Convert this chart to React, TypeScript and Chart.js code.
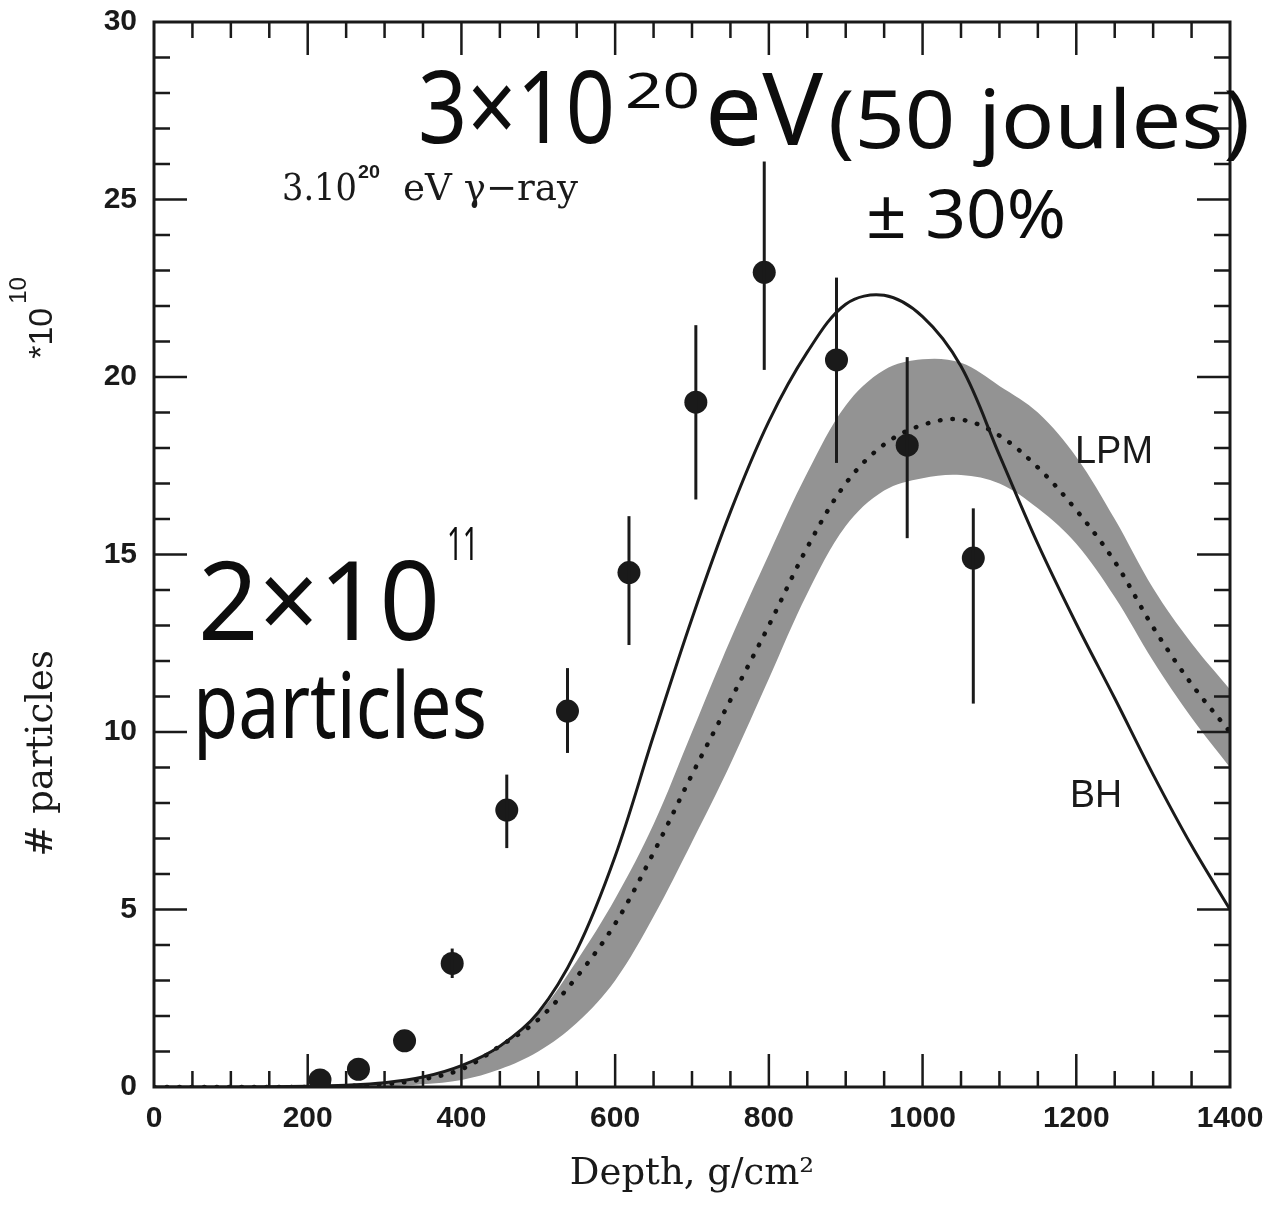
import React, { useEffect, useRef } from 'react';
import { Chart, registerables } from 'chart.js';

Chart.register(...registerables);

// ---------------- data ----------------
// Bethe-Heitler (BH) shower curve, solid line
const bhDepth = [0, 100, 200, 250, 300, 350, 400, 450, 500, 550, 600, 650, 700, 750, 800, 850, 900, 950, 1000, 1050, 1100, 1150, 1200, 1250, 1300, 1350, 1400];
const bhParticles = [0, 0, 0.02, 0.05, 0.12, 0.28, 0.6, 1.15, 2.1, 3.85, 6.5, 9.9, 13.2, 16.2, 18.75, 20.7, 22.05, 22.3, 21.7, 20.3, 17.8, 15.3, 13.05, 10.95, 8.8, 6.8, 5.0];

// LPM shower: central (dotted) curve and shaded band
const lpmDepth = [0, 200, 300, 350, 400, 450, 500, 550, 600, 650, 700, 750, 800, 850, 900, 950, 1000, 1050, 1100, 1150, 1200, 1250, 1300, 1350, 1400];
const lpmCentral = [0, 0, 0.08, 0.22, 0.5, 1.15, 1.9, 3.1, 4.6, 6.6, 8.8, 10.9, 13.0, 15.2, 17.0, 18.1, 18.65, 18.8, 18.35, 17.45, 16.25, 14.8, 12.95, 11.35, 10.0];
const lpmUpper = [0, 0, 0.12, 0.3, 0.6, 1.1, 2.05, 3.55, 5.3, 7.4, 10.0, 12.6, 15.0, 17.3, 19.2, 20.2, 20.5, 20.4, 19.75, 19.0, 17.75, 16.0, 14.05, 12.5, 11.2];
const lpmLower = [0, 0, 0.02, 0.08, 0.2, 0.5, 1.0, 1.8, 3.0, 4.8, 6.9, 9.1, 11.5, 13.9, 15.8, 16.8, 17.15, 17.24, 17.0, 16.3, 15.3, 13.8, 12.0, 10.4, 9.0];

// Fly's Eye measured points with error bars
const obsDepth = [216, 266, 326, 388, 459, 538, 618, 705, 794, 888, 980, 1066];
const obsParticles = [0.2, 0.5, 1.3, 3.48, 7.8, 10.59, 14.49, 19.29, 22.95, 20.48, 18.08, 14.9];
const obsErrHigh: (number | null)[] = [null, null, null, 3.9, 8.8, 11.8, 16.08, 21.46, 26.07, 22.8, 20.56, 16.3];
const obsErrLow: (number | null)[] = [null, null, null, 3.07, 6.73, 9.41, 12.45, 16.55, 20.2, 17.58, 15.46, 10.8];

// axes
const xRange = [0, 1400];
const yRange = [0, 30];
const xMajorStep = 200;
const xMinorStep = 50;
const yMajorStep = 5;
const yMinorStep = 1;

const INK = '#1a1a1a';
const BAND = '#939393';
const SERIF = '"DejaVu Serif", "Liberation Serif", serif';
const SANS = '"Liberation Sans", Arial, Helvetica, sans-serif';
const HAND = '"Noto Sans", "DejaVu Sans", sans-serif';

const zip = (xs: number[], ys: number[]) => xs.map((x, i) => ({ x, y: ys[i] }));

function drawFit(ctx: CanvasRenderingContext2D, text: string, x: number, y: number, targetW: number, font: string) {
  ctx.font = font;
  const w = ctx.measureText(text).width;
  const s = targetW > 0 && w > 0 ? Math.min(1.5, Math.max(0.6, targetW / w)) : 1;
  ctx.save();
  ctx.translate(x, y);
  ctx.scale(s, 1);
  ctx.textAlign = 'left';
  ctx.textBaseline = 'alphabetic';
  ctx.fillText(text, 0, 0);
  ctx.restore();
}

// text placed in data coordinates
const printedNotes = [
  { text: '3.10', x: 166.5, y: 25.0, w: 75, font: `37px ${SERIF}` },
  { text: '20', x: 265.4, y: 25.6, w: 22, font: `bold 19px ${SANS}` },
  { text: 'eV γ−ray', x: 324, y: 25.0, w: 175, font: `37px ${SERIF}` },
  { text: 'LPM', x: 1198.3, y: 17.57, w: 78, font: `38px ${SANS}` },
  { text: 'BH', x: 1191.8, y: 7.89, w: 52, font: `38px ${SANS}` },
];
const handNotes = [
  { text: '3×10', x: 343.5, y: 26.58, w: 197, size: 100 },
  { text: '20', x: 612.8, y: 27.57, w: 75, size: 50 },
  { text: 'eV', x: 716.9, y: 26.53, w: 118, size: 100 },
  { text: '(50 joules)', x: 876.9, y: 26.44, w: 422, size: 80 },
  { text: '± 30%', x: 926.4, y: 23.91, w: 200, size: 68 },
  { text: '2×10', x: 57.2, y: 12.59, w: 242, size: 110 },
  { text: '11', x: 381.2, y: 14.84, w: 31, size: 46 },
  { text: 'particles', x: 50.7, y: 9.83, w: 294, size: 92 },
];

const decorPlugin = {
  id: 'decor',
  afterDatasetsDraw(chart: any) {
    const ctx: CanvasRenderingContext2D = chart.ctx;
    const xs = chart.scales.x;
    const ys = chart.scales.y;
    const { left, right, top, bottom } = chart.chartArea;
    ctx.save();
    // error bars
    ctx.strokeStyle = INK;
    ctx.lineWidth = 3;
    obsDepth.forEach((d, i) => {
      const hi = obsErrHigh[i];
      const lo = obsErrLow[i];
      if (hi == null || lo == null) return;
      const px = xs.getPixelForValue(d);
      ctx.beginPath();
      ctx.moveTo(px, ys.getPixelForValue(hi));
      ctx.lineTo(px, ys.getPixelForValue(lo));
      ctx.stroke();
    });
    // frame
    ctx.lineWidth = 3;
    ctx.strokeRect(left, top, right - left, bottom - top);
    // inward ticks on all four sides
    ctx.lineWidth = 2.5;
    ctx.beginPath();
    for (let v = xRange[0] + xMinorStep; v < xRange[1]; v += xMinorStep) {
      const px = xs.getPixelForValue(v);
      const len = v % xMajorStep === 0 ? 33 : 16;
      ctx.moveTo(px, bottom);
      ctx.lineTo(px, bottom - len);
      ctx.moveTo(px, top);
      ctx.lineTo(px, top + len);
    }
    for (let v = yRange[0] + yMinorStep; v < yRange[1]; v += yMinorStep) {
      const py = ys.getPixelForValue(v);
      const len = v % yMajorStep === 0 ? 33 : 16;
      ctx.moveTo(left, py);
      ctx.lineTo(left + len, py);
      ctx.moveTo(right, py);
      ctx.lineTo(right - len, py);
    }
    ctx.stroke();
    ctx.restore();
  },
  afterDraw(chart: any) {
    const ctx: CanvasRenderingContext2D = chart.ctx;
    const xs = chart.scales.x;
    const ys = chart.scales.y;
    const { left } = chart.chartArea;
    ctx.save();
    ctx.fillStyle = INK;
    printedNotes.forEach(n => drawFit(ctx, n.text, xs.getPixelForValue(n.x), ys.getPixelForValue(n.y), n.w, n.font));
    ctx.fillStyle = '#0d0d0d';
    handNotes.forEach(n => drawFit(ctx, n.text, xs.getPixelForValue(n.x), ys.getPixelForValue(n.y), n.w, `${n.size}px ${HAND}`));

    // y-axis title (rotated)
    ctx.fillStyle = INK;
    ctx.save();
    ctx.translate(left - 102, ys.getPixelForValue(9.4));
    ctx.rotate(-Math.PI / 2);
    ctx.font = `37px ${SERIF}`;
    ctx.textAlign = 'center';
    ctx.textBaseline = 'alphabetic';
    ctx.fillText('# particles', 0, 0);
    ctx.restore();

    // *10^10 multiplier
    ctx.save();
    ctx.translate(left - 102, ys.getPixelForValue(21.95));
    ctx.rotate(-Math.PI / 2);
    ctx.textBaseline = 'alphabetic';
    ctx.font = `34px ${SANS}`;
    ctx.textAlign = 'right';
    ctx.fillText('*10', 0, 0);
    ctx.font = `24px ${SANS}`;
    ctx.textAlign = 'left';
    ctx.fillText('10', 4, -26);
    ctx.restore();

    ctx.restore();
  },
};

export default function App() {
  const ref = useRef<HTMLCanvasElement>(null);
  useEffect(() => {
    const canvas = ref.current;
    if (!canvas) return;
    const curve = { showLine: true, pointRadius: 0, tension: 0.35, fill: false };
    const chart = new Chart(canvas, {
      type: 'scatter',
      data: {
        datasets: [
          {
            label: 'Data',
            data: zip(obsDepth, obsParticles),
            showLine: false,
            pointRadius: 11.5,
            pointHoverRadius: 11.5,
            pointBackgroundColor: INK,
            pointBorderWidth: 0,
            clip: 0,
          } as any,
          {
            ...curve,
            label: 'BH',
            data: zip(bhDepth, bhParticles),
            borderColor: INK,
            borderWidth: 3,
          },
          {
            ...curve,
            label: 'LPM',
            data: zip(lpmDepth, lpmCentral),
            borderColor: '#111',
            borderWidth: 4.5,
            borderDash: [0.5, 12],
            borderCapStyle: 'round',
          },
          {
            ...curve,
            label: 'LPM upper',
            data: zip(lpmDepth, lpmUpper),
            borderWidth: 0,
            borderColor: 'rgba(0,0,0,0)',
            backgroundColor: BAND,
            fill: '+1',
          },
          {
            ...curve,
            label: 'LPM lower',
            data: zip(lpmDepth, lpmLower),
            borderWidth: 0,
            borderColor: 'rgba(0,0,0,0)',
          },
        ],
      },
      options: {
        responsive: false,
        animation: false,
        events: [],
        layout: { padding: { top: 22, right: 49, bottom: 0, left: 0 } },
        plugins: {
          legend: { display: false },
          tooltip: { enabled: false },
        },
        scales: {
          x: {
            type: 'linear',
            min: xRange[0],
            max: xRange[1],
            grid: { display: false, drawTicks: false },
            border: { display: false },
            ticks: {
              stepSize: xMajorStep,
              padding: 14,
              color: INK,
              font: { family: SANS, size: 30, weight: 'bold' },
              maxRotation: 0,
              callback: (v: any) => String(v),
            },
            title: {
              display: true,
              text: 'Depth, g/cm²',
              color: INK,
              font: { family: SERIF, size: 37 },
              padding: { top: 0, bottom: 14 },
            },
            afterFit: (s: any) => { s.height = 124; s.paddingLeft = 0; s.paddingRight = 0; },
          },
          y: {
            type: 'linear',
            min: yRange[0],
            max: yRange[1],
            grid: { display: false, drawTicks: false },
            border: { display: false },
            ticks: {
              stepSize: yMajorStep,
              padding: 17,
              color: INK,
              font: { family: SANS, size: 30, weight: 'bold' },
              callback: (v: any) => String(v),
            },
            afterFit: (s: any) => { s.width = 154; s.paddingTop = 0; s.paddingBottom = 0; },
          },
        },
      } as any,
      plugins: [decorPlugin],
    });
    return () => chart.destroy();
  }, []);
  return (
    <div style={{ position: 'absolute', left: 0, top: 0, width: 1279, height: 1211, background: '#fff', overflow: 'hidden' }}>
      <canvas ref={ref} width={1279} height={1211} style={{ display: 'block', width: 1279, height: 1211 }} />
    </div>
  );
}
